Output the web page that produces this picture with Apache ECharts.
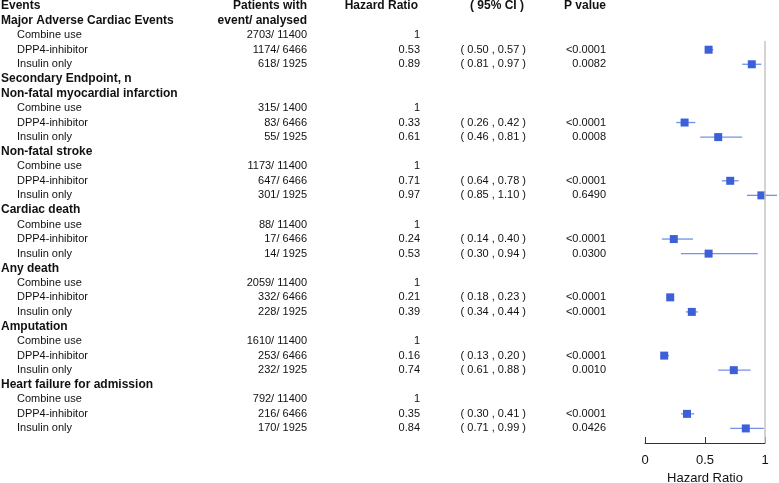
<!DOCTYPE html>
<html>
<head>
<meta charset="utf-8">
<script src="https://cdn.jsdelivr.net/npm/echarts@6/dist/echarts.min.js"></script>
<style>
  html, body { margin: 0; padding: 0; background: #fff; }
  #forest { width: 779px; height: 483px; }
</style>
</head>
<body>
<div id="forest"></div>
<script>
// endpoints and arms
const groups = ['Major Adverse Cardiac Events', 'Non-fatal myocardial infarction', 'Non-fatal stroke',
  'Cardiac death', 'Any death', 'Amputation', 'Heart failure for admission']
const arms = ['Combine use', 'DPP4-inhibitor', 'Insulin only']

// patients with event / analysed, per group, per arm
const eventCounts = [
  [2703, 1174, 618], [315, 83, 55], [1173, 647, 301], [88, 17, 14],
  [2059, 332, 228], [1610, 253, 232], [792, 216, 170]
]
const analysed = [
  [11400, 6466, 1925], [1400, 6466, 1925], [11400, 6466, 1925], [11400, 6466, 1925],
  [11400, 6466, 1925], [11400, 6466, 1925], [11400, 6466, 1925]
]

// hazard ratios for DPP4-inhibitor and Insulin only (Combine use = 1, reference)
const hrDpp4 = [0.53, 0.33, 0.71, 0.24, 0.21, 0.16, 0.35]
const loDpp4 = [0.50, 0.26, 0.64, 0.14, 0.18, 0.13, 0.30]
const hiDpp4 = [0.57, 0.42, 0.78, 0.40, 0.23, 0.20, 0.41]
const pDpp4 = ['<0.0001', '<0.0001', '<0.0001', '<0.0001', '<0.0001', '<0.0001', '<0.0001']

const hrIns = [0.89, 0.61, 0.97, 0.53, 0.39, 0.74, 0.84]
const loIns = [0.81, 0.46, 0.85, 0.30, 0.34, 0.61, 0.71]
const hiIns = [0.97, 0.81, 1.10, 0.94, 0.44, 0.88, 0.99]
const pIns = ['0.0082', '0.0008', '0.6490', '0.0300', '<0.0001', '0.0010', '0.0426']

const xTicks = [0, 0.5, 1]

// build table rows
const rows = []
rows.push({ kind: 'head' })
groups.forEach(function(g, i) {
  if (i === 1) rows.push({ kind: 'group', label: 'Secondary Endpoint, n' })
  rows.push({ kind: 'group', label: g, sub: i === 0 ? 'event/ analysed' : '' })
  arms.forEach(function(a, j) {
    const r = { kind: 'arm', label: a, n: eventCounts[i][j] + '/ ' + analysed[i][j] }
    if (j === 0) {
      r.hr = 1
    } else {
      const hr = j === 1 ? hrDpp4[i] : hrIns[i]
      const lo = j === 1 ? loDpp4[i] : loIns[i]
      const hi = j === 1 ? hiDpp4[i] : hiIns[i]
      r.hr = hr; r.lo = lo; r.hi = hi
      r.p = j === 1 ? pDpp4[i] : pIns[i]
    }
    rows.push(r)
  })
})

const fmt = function(v) { return v.toFixed(2) }
const markers = []
const bars = []
rows.forEach(function(r, idx) {
  if (r.kind === 'arm' && r.lo !== undefined) {
    markers.push([r.hr, idx])
    bars.push([r.lo, r.hi, idx])
  }
})

const FONT = '"Liberation Sans", Arial, sans-serif'
function txt(x, y, s, align, bold) {
  return {
    type: 'text',
    style: {
      x: x, y: y, text: s, align: align, verticalAlign: 'middle',
      font: (bold ? 'bold 12px ' : '11px ') + FONT, fill: '#111'
    }
  }
}

function renderTable(params, api) {
  const idx = api.value(0)
  const r = rows[idx]
  const y = api.coord([0, idx])[1]
  const kids = []
  if (r.kind === 'head') {
    kids.push(txt(1, y, 'Events', 'left', true))
    kids.push(txt(307, y, 'Patients with', 'right', true))
    kids.push(txt(418, y, 'Hazard Ratio', 'right', true))
    kids.push(txt(524, y, '( 95% CI )', 'right', true))
    kids.push(txt(606, y, 'P value', 'right', true))
  } else if (r.kind === 'group') {
    kids.push(txt(1, y, r.label, 'left', true))
    if (r.sub) kids.push(txt(307, y, r.sub, 'right', true))
  } else {
    kids.push(txt(17, y, r.label, 'left', false))
    kids.push(txt(307, y, r.n, 'right', false))
    kids.push(txt(420, y, r.hr === 1 ? '1' : fmt(r.hr), 'right', false))
    if (r.lo !== undefined) {
      kids.push(txt(526, y, '( ' + fmt(r.lo) + ' , ' + fmt(r.hi) + ' )', 'right', false))
      kids.push(txt(606, y, r.p, 'right', false))
    }
  }
  return { type: 'group', children: kids }
}

function renderBar(params, api) {
  const a = api.coord([api.value(0), api.value(2)])
  const b = api.coord([api.value(1), api.value(2)])
  return {
    type: 'line',
    shape: { x1: a[0], y1: a[1], x2: b[0], y2: b[1] },
    style: { stroke: '#7391e6', lineWidth: 1.3 }
  }
}

const myChart = echarts.init(document.getElementById('forest'))
const option = {
  animation: false,
  grid: { left: 645, right: 14, top: 6, bottom: 40, outerBoundsMode: 'none' },
  xAxis: {
    type: 'value',
    position: 'bottom',
    min: xTicks[0],
    max: xTicks[xTicks.length - 1],
    interval: 0.5,
    axisLine: { onZero: false, lineStyle: { color: '#333', width: 1 } },
    axisTick: { inside: true, length: 6, lineStyle: { color: '#333' } },
    axisLabel: { fontSize: 13, color: '#111', margin: 11, fontFamily: FONT },
    splitLine: { show: false },
    name: 'Hazard Ratio',
    nameLocation: 'middle',
    nameGap: 27,
    nameTextStyle: { fontSize: 13, color: '#111', fontFamily: FONT }
  },
  yAxis: {
    type: 'value',
    inverse: true,
    min: 0,
    max: 30,
    show: false
  },
  series: [
    {
      type: 'line',
      data: [[1, 2.4], [1, 30]],
      symbol: 'none',
      silent: true,
      lineStyle: { color: '#c4c4c4', width: 1.5 }
    },
    {
      type: 'custom',
      data: bars,
      clip: false,
      renderItem: renderBar
    },
    {
      type: 'scatter',
      data: markers,
      symbol: 'rect',
      symbolSize: 8,
      itemStyle: { color: '#3d60d9', opacity: 1 }
    },
    {
      type: 'custom',
      data: rows.map(function(r, i) { return [i] }),
      clip: false,
      silent: true,
      encode: { y: 0 },
      renderItem: renderTable
    }
  ]
}
myChart.setOption(option)
window.addEventListener('resize', function() {
  myChart.resize()
})
</script>
</body>
</html>
